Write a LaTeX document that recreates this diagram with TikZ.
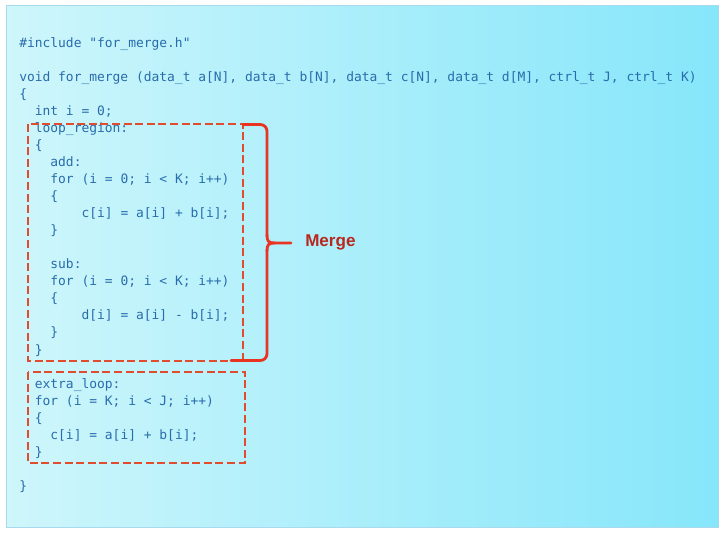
\documentclass[tikz,border=0pt]{standalone}
\usepackage{fontspec}
\setmonofont{DejaVu Sans Mono}
\newfontfamily\mergefont{Liberation Sans}
\definecolor{codeblue}{RGB}{40,108,172}
\definecolor{boxred}{RGB}{226,76,46}
\definecolor{bracered}{RGB}{232,52,32}
\definecolor{mergered}{RGB}{184,40,30}
\definecolor{bgleft}{RGB}{206,246,251}
\definecolor{bgright}{RGB}{134,230,250}
\definecolor{panelborder}{RGB}{168,218,238}
\begin{document}
\begin{tikzpicture}[x=0.75pt,y=-0.75pt,
  codeline/.style={anchor=base west,inner sep=0pt,text=codeblue,font=\ttfamily\fontsize{9.7pt}{12.75pt}\selectfont},
  regionbox/.style={draw=boxred,line width=2.2pt,dash pattern=on 6pt off 2.7pt},
  bracestyle/.style={draw=bracered,line width=2.1pt,line cap=round,line join=round},
  mergelabel/.style={anchor=west,inner sep=0pt,text=mergered,font=\mergefont\bfseries\fontsize{12.8pt}{14pt}\selectfont}]
\useasboundingbox (0,0) rectangle (724,534);
% panel
\node[draw=panelborder,line width=1.1pt,left color=bgleft,right color=bgright,inner sep=0pt,minimum width=712*0.75pt,minimum height=522*0.75pt,anchor=north west] (panel) at (6,5) {};
% code lines
\def\lh{17}
\node[codeline] (l0) at (19,48+0*\lh) {\#include "for\_merge.h"};
\node[codeline] (l2) at (19,48+2*\lh) {void for\_merge (data\_t a[N], data\_t b[N], data\_t c[N], data\_t d[M], ctrl\_t J, ctrl\_t K)};
\node[codeline] (l3) at (19,48+3*\lh) {\{};
\node[codeline] (l4) at (19+2*7.79,48+4*\lh) {int i = 0;};
\node[codeline] (l5) at (19+2*7.79,48+5*\lh) {loop\_region:};
\node[codeline] (l6) at (19+2*7.79,48+6*\lh) {\{};
\node[codeline] (l7) at (19+4*7.79,48+7*\lh) {add:};
\node[codeline] (l8) at (19+4*7.79,48+8*\lh) {for (i = 0; i < K; i++)};
\node[codeline] (l9) at (19+4*7.79,48+9*\lh) {\{};
\node[codeline] (l10) at (19+8*7.79,48+10*\lh) {c[i] = a[i] + b[i];};
\node[codeline] (l11) at (19+4*7.79,48+11*\lh) {\}};
\node[codeline] (l13) at (19+4*7.79,48+13*\lh) {sub:};
\node[codeline] (l14) at (19+4*7.79,48+14*\lh) {for (i = 0; i < K; i++)};
\node[codeline] (l15) at (19+4*7.79,48+15*\lh) {\{};
\node[codeline] (l16) at (19+8*7.79,48+16*\lh) {d[i] = a[i] - b[i];};
\node[codeline] (l17) at (19+4*7.79,48+17*\lh) {\}};
\node[codeline] (l18) at (19+2*7.79,48+18*\lh) {\}};
\node[codeline] (l20) at (19+2*7.79,48+20*\lh) {extra\_loop:};
\node[codeline] (l21) at (19+2*7.79,48+21*\lh) {for (i = K; i < J; i++)};
\node[codeline] (l22) at (19+2*7.79,48+22*\lh) {\{};
\node[codeline] (l23) at (19+4*7.79,48+23*\lh) {c[i] = a[i] + b[i];};
\node[codeline] (l24) at (19+2*7.79,48+24*\lh) {\}};
\node[codeline] (l26) at (19,48+26*\lh) {\}};
% region boxes
\coordinate (b1nw) at (28,124);
\coordinate (b1se) at (243,361);
\coordinate (b2nw) at (28,372);
\coordinate (b2se) at (245,463);
\draw[regionbox] (b1nw) rectangle (b1se);
\draw[regionbox] (b2nw) rectangle (b2se);
% brace
\coordinate (brtop) at (243,124.5);
\coordinate (brbot) at (231,360.5);
\coordinate (brtip) at (291,243);
\draw[bracestyle,rounded corners=5pt] (brtop) -- (267,124.5) -- (267,236);
\draw[bracestyle] (267,235) .. controls (267,241) and (268,243) .. (275,243) -- (brtip);
\draw[bracestyle] (275,243) .. controls (268,243) and (267,245) .. (267,251);
\draw[bracestyle,rounded corners=5pt] (267,250) -- (267,360.5) -- (brbot);
% label
\node[mergelabel] (merge) at (305,242) {Merge};
\end{tikzpicture}
\end{document}
